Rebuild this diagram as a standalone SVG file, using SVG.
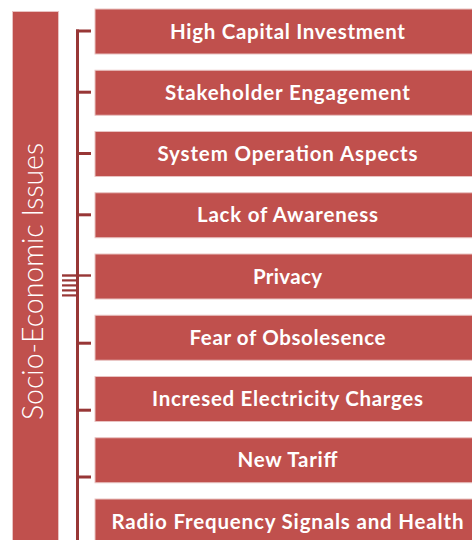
<svg xmlns="http://www.w3.org/2000/svg" width="472" height="540" viewBox="0 0 472 540">
  <style>
    .box { fill: #C0504D; stroke: #E9C3C2; stroke-width: 1; }
    .label { font-family: Lato, "Open Sans", "Liberation Sans", sans-serif; font-weight: 700; font-size: 20.5px; fill: #FFFFFF; text-anchor: middle; }
    .title { font-family: Lato, "Open Sans", "Liberation Sans", sans-serif; font-weight: 300; font-size: 29px; fill: #FFFFFF; text-anchor: middle; }
    .bracket { fill: #983736; }
  </style>

  <!-- parent category bar -->
  <g id="socio-economic-issues">
    <rect class="box" x="12.5" y="11.5" width="46" height="540"/>
    <text class="title" transform="translate(43 281.5) rotate(-90)" textLength="277" lengthAdjust="spacingAndGlyphs">Socio-Economic Issues</text>
  </g>

  <!-- bracket connectors -->
  <g id="connectors">
    <rect class="bracket" x="76" y="29.5" width="3" height="511"/>
    <rect class="bracket" x="76" y="29.5" width="15" height="3"/>
    <rect class="bracket" x="76" y="90.7" width="15" height="3"/>
    <rect class="bracket" x="76" y="152" width="15" height="3"/>
    <rect class="bracket" x="76" y="213.3" width="15" height="3"/>
    <rect class="bracket" x="62" y="274.3" width="29" height="2.4"/>
    <rect class="bracket" x="62" y="279.3" width="15" height="2.2"/>
    <rect class="bracket" x="62" y="284.3" width="15" height="2.2"/>
    <rect class="bracket" x="62" y="289.3" width="15" height="2.2"/>
    <rect class="bracket" x="62" y="294.3" width="15" height="2.2"/>
    <rect class="bracket" x="76" y="341.7" width="15" height="3"/>
    <rect class="bracket" x="76" y="408.7" width="15" height="3"/>
    <rect class="bracket" x="76" y="475.5" width="15" height="3"/>
  </g>

  <!-- issue boxes -->
  <g id="high-capital-investment">
    <rect class="box" x="95" y="9" width="390" height="45"/>
    <text class="label" x="287.5" y="38.5" textLength="235">High Capital Investment</text>
  </g>
  <g id="stakeholder-engagement">
    <rect class="box" x="95" y="70.25" width="390" height="45"/>
    <text class="label" x="287.5" y="99.75" textLength="245">Stakeholder Engagement</text>
  </g>
  <g id="system-operation-aspects">
    <rect class="box" x="95" y="131.5" width="390" height="45"/>
    <text class="label" x="287.5" y="161" textLength="260">System Operation Aspects</text>
  </g>
  <g id="lack-of-awareness">
    <rect class="box" x="95" y="192.75" width="390" height="45"/>
    <text class="label" x="287.5" y="222.25" textLength="181">Lack of Awareness</text>
  </g>
  <g id="privacy">
    <rect class="box" x="95" y="254" width="390" height="45"/>
    <text class="label" x="287.5" y="283.5" textLength="69">Privacy</text>
  </g>
  <g id="fear-of-obsolesence">
    <rect class="box" x="95" y="315.25" width="390" height="45"/>
    <text class="label" x="287.5" y="344.75" textLength="196">Fear of Obsolesence</text>
  </g>
  <g id="incresed-electricity-charges">
    <rect class="box" x="95" y="376.5" width="390" height="45"/>
    <text class="label" x="287.5" y="406" textLength="271">Incresed Electricity Charges</text>
  </g>
  <g id="new-tariff">
    <rect class="box" x="95" y="437.75" width="390" height="45"/>
    <text class="label" x="287.5" y="467.25" textLength="100">New Tariff</text>
  </g>
  <g id="radio-frequency-signals-and-health">
    <rect class="box" x="95" y="499" width="390" height="45"/>
    <text class="label" x="287.5" y="528.5" textLength="352">Radio Frequency Signals and Health</text>
  </g>
</svg>
